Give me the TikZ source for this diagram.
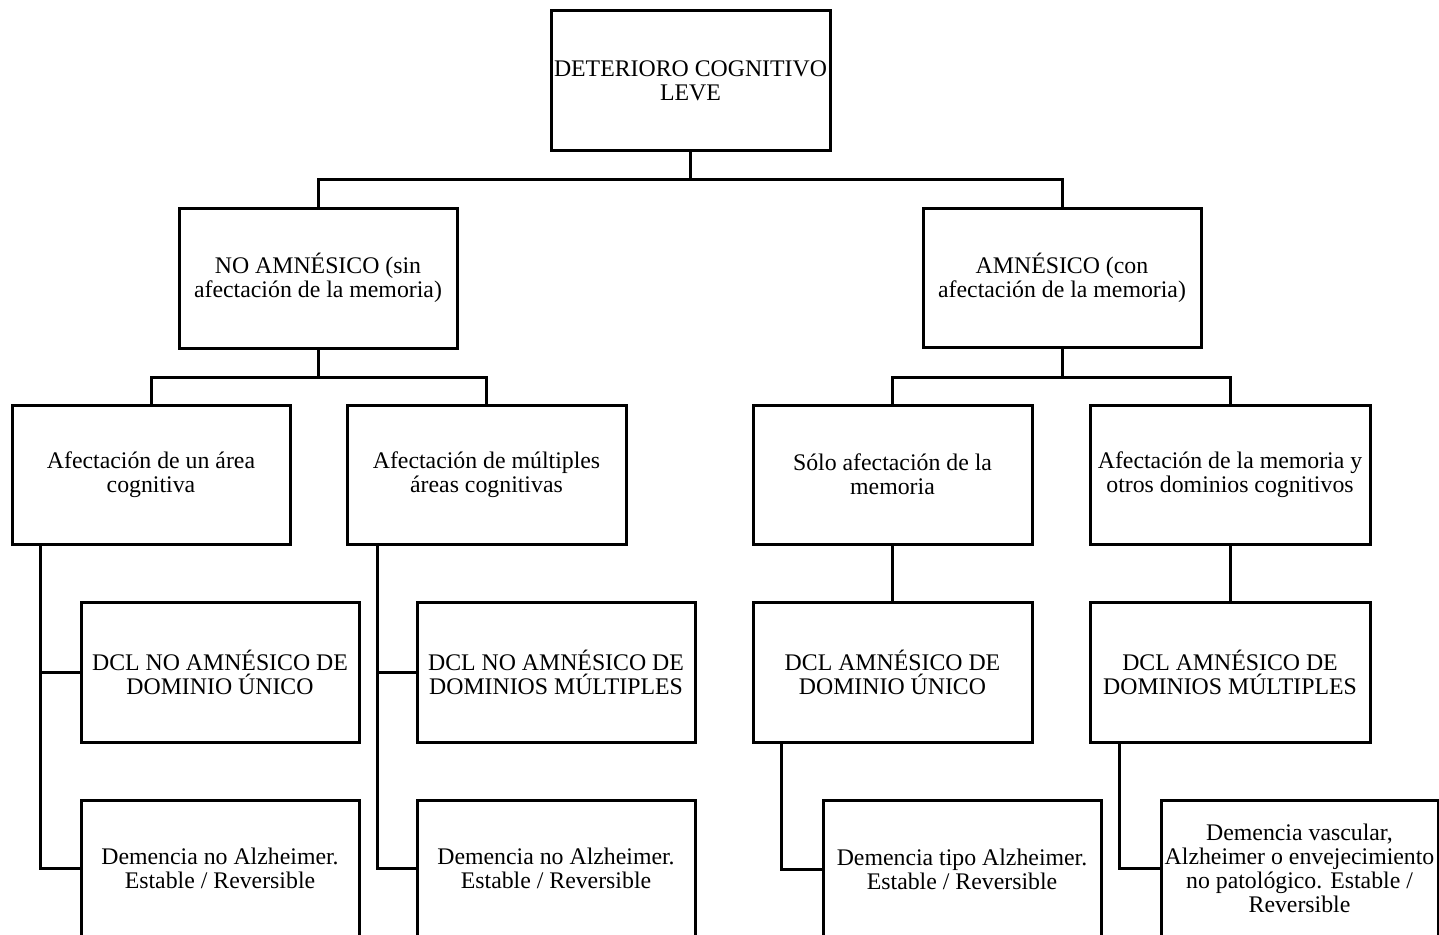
\documentclass[tikz,border=0pt]{standalone}
\usepackage{fontspec}
\setmainfont{Liberation Serif}
\pgfdeclarelayer{background}
\pgfsetlayers{background,main}
\begin{document}
\begin{tikzpicture}[x=1pt,y=-1pt,
  box/.style={draw=black, line width=3pt, rectangle, inner sep=0pt, align=center,
    font=\fontsize{23.8}{24}\selectfont, fill=white},
  conn/.style={draw=black, line width=3pt, line cap=rect, line join=miter}]
\useasboundingbox (0,0) rectangle (1439,934);
\clip (0,0) rectangle (1439,934);
% top
\node[box, minimum width=279, minimum height=139] (top) at (690.5,80.5) {DETERIORO COGNITIVO\\LEVE};
% level 2
\node[box, minimum width=278, minimum height=140] (na) at (318,278) {NO AMNÉSICO (sin\\afectación de la memoria)};
\node[box, minimum width=278, minimum height=139] (am) at (1062,277.5) {AMNÉSICO (con\\afectación de la memoria)};
% level 3
\node[box, minimum width=278, minimum height=139] (a1) at (151,474.5) {Afectación de un área\\cognitiva};
\node[box, minimum width=279, minimum height=139] (a2) at (486.5,474.5) {Afectación de múltiples\\áreas cognitivas};
\node[box, minimum width=279, minimum height=139] (a3) at (892.5,474.5) {Sólo afectación de la\\memoria};
\node[box, minimum width=280, minimum height=139] (a4) at (1230,474.5) {Afectación de la memoria y\\otros dominios cognitivos};
% level 4
\node[box, minimum width=278, minimum height=140] (b1) at (220,672) {DCL NO AMNÉSICO DE\\DOMINIO ÚNICO};
\node[box, minimum width=278, minimum height=140] (b2) at (556,672) {DCL NO AMNÉSICO DE\\DOMINIOS MÚLTIPLES};
\node[box, minimum width=279, minimum height=140] (b3) at (892.5,672) {DCL AMNÉSICO DE\\DOMINIO ÚNICO};
\node[box, minimum width=280, minimum height=140] (b4) at (1230,672) {DCL AMNÉSICO DE\\DOMINIOS MÚLTIPLES};
% level 5
\node[box, minimum width=278, minimum height=136] (c1) at (220,868) {Demencia no Alzheimer.\\Estable / Reversible};
\node[box, minimum width=278, minimum height=136] (c2) at (556,868) {Demencia no Alzheimer.\\Estable / Reversible};
\node[box, minimum width=278, minimum height=138] (c3) at (962,869) {Demencia tipo Alzheimer.\\Estable / Reversible};
\node[box, minimum width=277, minimum height=136] (c4) at (1299.5,868) {Demencia vascular,\\Alzheimer o envejecimiento\\no patológico. Estable /\\Reversible};
% junction coordinates
\coordinate (j1) at (0,179);
\coordinate (j2) at (0,377);
\coordinate (x1) at (40,0);
\coordinate (x2) at (377,0);
\coordinate (x3) at (781,0);
\coordinate (x4) at (1119,0);
% connectors
\begin{pgfonlayer}{background}
\fill[white] (0,0) rectangle (1439,934);
\draw[conn] (top.south) -- (top.south |- j1) -| (na.north);
\draw[conn] (top.south |- j1) -| (am.north);
\draw[conn] (na.south) -- (na.south |- j2) -| (a1.north);
\draw[conn] (na.south |- j2) -| (a2.north);
\draw[conn] (am.south) -- (am.south |- j2) -| (a3.north);
\draw[conn] (am.south |- j2) -| (a4.north);
\draw[conn] (a3.south) -- (b3.north);
\draw[conn] (a4.south) -- (b4.north);
\draw[conn] (x1 |- a1.south) |- (b1.west);
\draw[conn] (x1 |- b1.west) |- (c1.west);
\draw[conn] (x2 |- a2.south) |- (b2.west);
\draw[conn] (x2 |- b2.west) |- (c2.west);
\draw[conn] (x3 |- b3.south) |- (c3.west);
\draw[conn] (x4 |- b4.south) |- (c4.west);
\end{pgfonlayer}
\end{tikzpicture}
\end{document}
